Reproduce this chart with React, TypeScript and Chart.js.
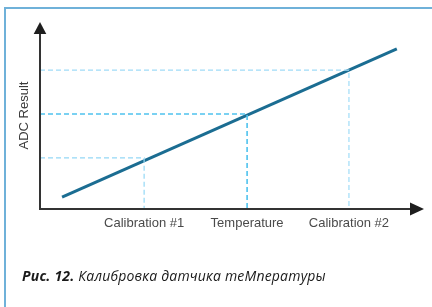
import React, { useEffect, useRef } from "react";
import { Chart, registerables } from "chart.js";

Chart.register(...registerables);

// Category positions along the temperature axis (arbitrary 0..100 units)
const categories = ["Calibration #1", "Temperature", "Calibration #2"];
const categoryX = [27.4, 54.5, 81.3];
// ADC result at each category (arbitrary 0..100 units)
const categoryY = [27.3, 50.8, 74.3];
// Calibration line end points
const lineX = [5.8, 93.9];
const lineY = [6.4, 85.6];
const yAxisTitle = "ADC Result";
const captionBold = "Рис. 12.";
const captionText = " Калибровка датчика теМпературы";

const guideColors = ["#94d8f6", "#4fc2ee", "#a0dcf7"];
const guideWidths = [1.2, 1.6, 1.2];

const arrowsPlugin = {
  id: "axisArrows",
  afterDatasetsDraw(chart: any) {
    const { ctx, chartArea } = chart;
    const { left, top, right, bottom } = chartArea;
    ctx.save();
    ctx.strokeStyle = "#333333";
    ctx.fillStyle = "#1e1e1e";
    ctx.lineWidth = 2;
    ctx.beginPath();
    ctx.moveTo(left, bottom);
    ctx.lineTo(right - 6, bottom);
    ctx.moveTo(left, bottom + 1);
    ctx.lineTo(left, top + 8);
    ctx.stroke();
    // x arrow head
    ctx.beginPath();
    ctx.moveTo(right + 4, bottom);
    ctx.lineTo(right - 10, bottom - 6.5);
    ctx.lineTo(right - 10, bottom + 6.5);
    ctx.closePath();
    ctx.fill();
    // y arrow head
    ctx.beginPath();
    ctx.moveTo(left, top);
    ctx.lineTo(left - 6.3, top + 12);
    ctx.lineTo(left + 6.3, top + 12);
    ctx.closePath();
    ctx.fill();
    ctx.restore();
  },
};

function ChartCanvas() {
  const ref = useRef<HTMLCanvasElement | null>(null);
  useEffect(() => {
    if (!ref.current) return;
    const guides = categories.map((name, i) => ({
      label: name,
      data: [
        { x: 0, y: categoryY[i] },
        { x: categoryX[i], y: categoryY[i] },
        { x: categoryX[i], y: 0 },
      ],
      borderColor: guideColors[i],
      borderWidth: guideWidths[i],
      borderDash: [5, 3],
      pointRadius: 0,
      fill: false,
      tension: 0,
    }));
    const chart = new Chart(ref.current, {
      type: "line",
      data: {
        datasets: [
          ...guides,
          {
            label: "ADC",
            data: lineX.map((x, i) => ({ x, y: lineY[i] })),
            borderColor: "#1b6d92",
            borderWidth: 3,
            pointRadius: 0,
            fill: false,
            tension: 0,
          },
        ] as any,
      },
      options: {
        responsive: false,
        maintainAspectRatio: false,
        animation: false,
        devicePixelRatio: 1,
        layout: { padding: { left: 16.2, top: 22, right: 12, bottom: 68.4 } },
        plugins: {
          legend: { display: false },
          tooltip: { enabled: false },
          title: { display: false },
        },
        scales: {
          x: {
            type: "linear",
            min: 0,
            max: 100,
            grid: { display: false, drawTicks: false },
            border: { display: false },
            afterBuildTicks: (scale: any) => {
              scale.ticks = categoryX.map((v) => ({ value: v }));
            },
            ticks: {
              padding: 7,
              autoSkip: false,
              maxRotation: 0,
              color: "#4a4a4a",
              font: { family: "'Liberation Sans', Arial, sans-serif", size: 13 },
              callback: (value: any) => {
                const idx = categoryX.indexOf(Number(value));
                return idx >= 0 ? categories[idx] : "";
              },
            },
          },
          y: {
            type: "linear",
            min: 0,
            max: 100,
            grid: { display: false, drawTicks: false },
            border: { display: false },
            ticks: { display: false },
            title: {
              display: true,
              text: yAxisTitle,
              color: "#3a3a3a",
              padding: { top: 0, bottom: 8.2 },
              font: { family: "'Liberation Sans', Arial, sans-serif", size: 13 },
            },
          },
        },
      },
      plugins: [arrowsPlugin],
    } as any);
    return () => chart.destroy();
  }, []);
  return <canvas ref={ref} width={432} height={307} style={{ position: "absolute", left: 0, top: 0 }} />;
}

export default function App() {
  useEffect(() => {
    document.body.style.margin = "0";
    document.body.style.background = "#ffffff";
  }, []);
  return (
    <div style={{ position: "fixed", left: 0, top: 0, width: 432, height: 307, overflow: "hidden", background: "#fff" }}>
      <div
        style={{
          position: "absolute",
          left: 4,
          top: 7,
          width: 500,
          height: 400,
          borderTop: "2px solid #6fb1d9",
          borderLeft: "2px solid #6fb1d9",
        }}
      />
      <ChartCanvas />
      <div
        style={{
          position: "absolute",
          left: 22,
          top: 268,
          lineHeight: "16px",
          fontSize: 14,
          fontFamily: "'Open Sans', 'Noto Sans', sans-serif",
          fontStyle: "italic",
          color: "#1a1a1a",
          whiteSpace: "nowrap",
          letterSpacing: "0.2px",
        }}
      >
        <b>{captionBold}</b>
        {captionText}
      </div>
    </div>
  );
}
